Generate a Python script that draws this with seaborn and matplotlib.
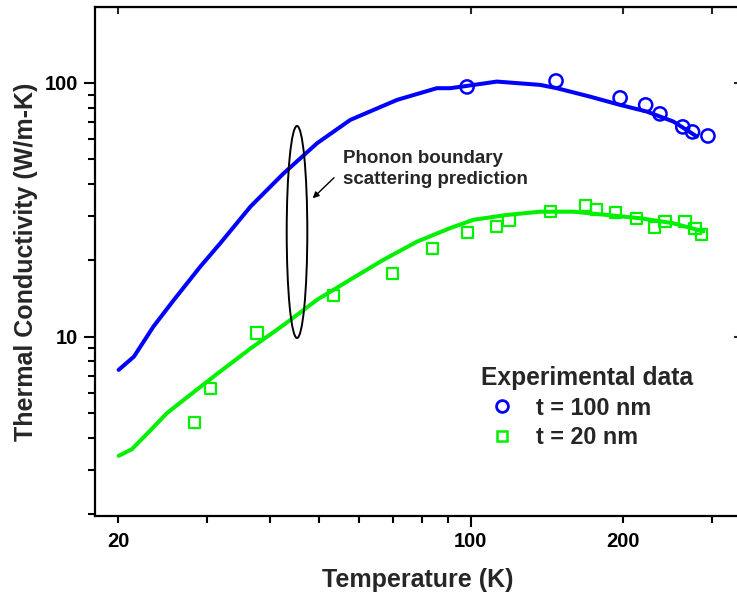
import numpy as np
import pandas as pd
import seaborn as sns
import matplotlib
matplotlib.use("Agg")
import matplotlib.pyplot as plt
from matplotlib.ticker import FixedLocator, FixedFormatter, NullFormatter
from matplotlib.patches import Ellipse
from matplotlib.lines import Line2D

# ---- data: phonon boundary scattering prediction curves ----
temp_curve_100 = [20.05, 21.5, 23.5, 25.8, 29.1, 31.9, 36.6, 42.6, 49.6, 57.7,
                  71.4, 85.6, 91.0, 98.2, 112.6, 137.2, 148.0, 172.2, 197.6, 223.2, 252.0, 280.4]
k_curve_100 = [7.41, 8.36, 10.98, 13.98, 18.9, 23.4, 32.6, 44.1, 57.9, 71.5,
               85.7, 95.3, 95.3, 97.3, 101.2, 98.2, 95.3, 88.3, 81.9, 77.1, 70.4, 61.5]

temp_curve_20 = [20.05, 21.3, 23.2, 25.0, 27.0, 31.4, 36.6, 42.6, 49.6, 57.7, 67.1,
                 78.2, 91.0, 101.2, 117.8, 137.2, 159.6, 185.9, 216.6, 252.0, 288.8]
k_curve_20 = [3.40, 3.61, 4.29, 5.01, 5.65, 7.14, 9.0, 11.15, 14.0, 16.8, 20.1,
              23.7, 26.8, 28.9, 30.2, 31.1, 31.1, 30.2, 29.3, 28.0, 26.0]

# ---- data: experimental points ----
temp_100 = [98.3, 147.5, 197.6, 222.0, 237.0, 263.0, 275.0, 295.0]
k_100 = [96.4, 101.8, 87.3, 81.9, 75.5, 67.1, 64.1, 61.8]

temp_20 = [28.3, 30.5, 37.7, 53.5, 70.0, 83.9, 98.6, 112.2, 119.0, 144.0, 169.0,
           177.7, 193.7, 213.0, 231.6, 242.5, 265.7, 278.0, 286.6]
k_20 = [4.60, 6.26, 10.35, 14.6, 17.8, 22.3, 25.7, 27.1, 28.6, 31.1, 32.8,
        31.6, 30.8, 29.2, 26.9, 28.4, 28.4, 26.6, 25.2]

x_major = [100]
x_minor = [20, 30, 40, 50, 60, 70, 80, 90, 200, 300]
x_minor_labels = ["20", "", "", "", "", "", "", "", "200", ""]
y_major = [10, 100]
y_major_labels = ["10", "100"]
y_minor = [2, 3, 4, 5, 6, 7, 8, 9, 20, 30, 40, 50, 60, 70, 80, 90]

legend_title = "Experimental data"
legend_labels = ["t = 100 nm", "t = 20 nm"]
blue = "#0000FF"
green = "#00F000"

sns.set_style("ticks")
plt.rcParams["font.family"] = ["Liberation Sans", "DejaVu Sans"]
plt.rcParams["font.weight"] = "bold"
plt.rcParams["axes.labelweight"] = "bold"

fig = plt.figure(figsize=(7.37, 5.96), dpi=100)
ax = fig.add_axes([95 / 737, 80 / 596, 646 / 737, 509 / 596])

c100 = pd.DataFrame({"T": temp_curve_100, "k": k_curve_100})
c20 = pd.DataFrame({"T": temp_curve_20, "k": k_curve_20})
e100 = pd.DataFrame({"T": temp_100, "k": k_100})
e20 = pd.DataFrame({"T": temp_20, "k": k_20})

sns.lineplot(data=c100, x="T", y="k", ax=ax, color=blue, lw=2.9, sort=False, legend=False)
sns.lineplot(data=c20, x="T", y="k", ax=ax, color=green, lw=2.9, sort=False, legend=False)
for ln in ax.lines:
    ln.set_solid_joinstyle("round")
    ln.set_solid_capstyle("round")
sns.scatterplot(data=e100, x="T", y="k", ax=ax, marker="o", s=90, color=blue,
                facecolor="none", edgecolor=blue, linewidth=1.8, legend=False, zorder=3)
sns.scatterplot(data=e20, x="T", y="k", ax=ax, marker="s", s=64, color=green,
                facecolor="none", edgecolor=green, linewidth=1.6, legend=False, zorder=3)

ax.set_xscale("log")
ax.set_yscale("log")
ax.set_xlim(18.0, 343)
ax.set_ylim(1.97, 199)

ax.xaxis.set_major_locator(FixedLocator(x_major))
ax.xaxis.set_major_formatter(FixedFormatter(["100"]))
ax.xaxis.set_minor_locator(FixedLocator(x_minor))
ax.xaxis.set_minor_formatter(FixedFormatter(x_minor_labels))
ax.yaxis.set_major_locator(FixedLocator(y_major))
ax.yaxis.set_major_formatter(FixedFormatter(y_major_labels))
ax.yaxis.set_minor_locator(FixedLocator(y_minor))
ax.yaxis.set_minor_formatter(NullFormatter())

ax.tick_params(axis="both", which="major", direction="out", length=8, width=1.5,
               labelsize=14.5, colors="black")
ax.tick_params(axis="both", which="minor", direction="out", length=5, width=1.5,
               labelsize=14.5, colors="black")
ax.tick_params(axis="x", which="major", pad=3.8)
ax.tick_params(axis="x", which="minor", pad=6.8)
ax.tick_params(axis="y", which="major", pad=4.3)
for lab in ax.get_xticklabels(which="both") + ax.get_yticklabels():
    lab.set_fontweight("bold")

for sp in ax.spines.values():
    sp.set_linewidth(1.6)
    sp.set_color("black")
    sp.set_visible(True)

# top and right: inward ticks
top = ax.secondary_xaxis("top")
top.xaxis.set_major_locator(FixedLocator([20, 100, 200, 300]))
top.xaxis.set_minor_locator(FixedLocator([]))
top.tick_params(which="both", direction="in", length=5, width=1.5, labeltop=False)
right = ax.secondary_yaxis("right")
right.yaxis.set_major_locator(FixedLocator(y_major))
right.yaxis.set_minor_locator(FixedLocator([]))
right.tick_params(which="both", direction="in", length=5, width=1.5, labelright=False)

ax.set_xlabel("Temperature (K)", fontsize=18, fontweight="bold", labelpad=12)
ax.set_ylabel("Thermal Conductivity (W/m-K)", fontsize=18, fontweight="bold", labelpad=5)

# ellipse annotation
ax.add_patch(Ellipse((0.3127, 0.558), 0.0319, 0.4165, transform=ax.transAxes,
                     fill=False, edgecolor="black", lw=1.4, zorder=4))
ax.text(0.3839, 0.682, "Phonon boundary\nscattering prediction", transform=ax.transAxes,
        ha="left", va="center", fontsize=13.5, fontweight="bold", linespacing=1.32)
ax.annotate("", xy=(0.337, 0.6242), xytext=(0.370, 0.6646),
            xycoords="axes fraction", textcoords="axes fraction",
            arrowprops=dict(arrowstyle="-|>", lw=1.0, color="black", mutation_scale=9,
                            shrinkA=0, shrinkB=0))

handles = [
    Line2D([], [], ls="none", marker="o", markersize=8.5, markerfacecolor="none",
           markeredgecolor=blue, markeredgewidth=2.0),
    Line2D([], [], ls="none", marker="s", markersize=7.5, markerfacecolor="none",
           markeredgecolor=green, markeredgewidth=1.8),
]
leg = ax.legend(handles, legend_labels, title=legend_title, loc="upper left",
                bbox_to_anchor=(0.597, 0.294), frameon=False, alignment="left",
                prop=dict(size=16.8, weight="bold"),
                title_fontproperties=dict(size=17.7, weight="bold"),
                handlelength=1.8, handletextpad=0.56, labelspacing=0.27,
                borderpad=0, borderaxespad=0)

fig.savefig("out.png", dpi=100)
